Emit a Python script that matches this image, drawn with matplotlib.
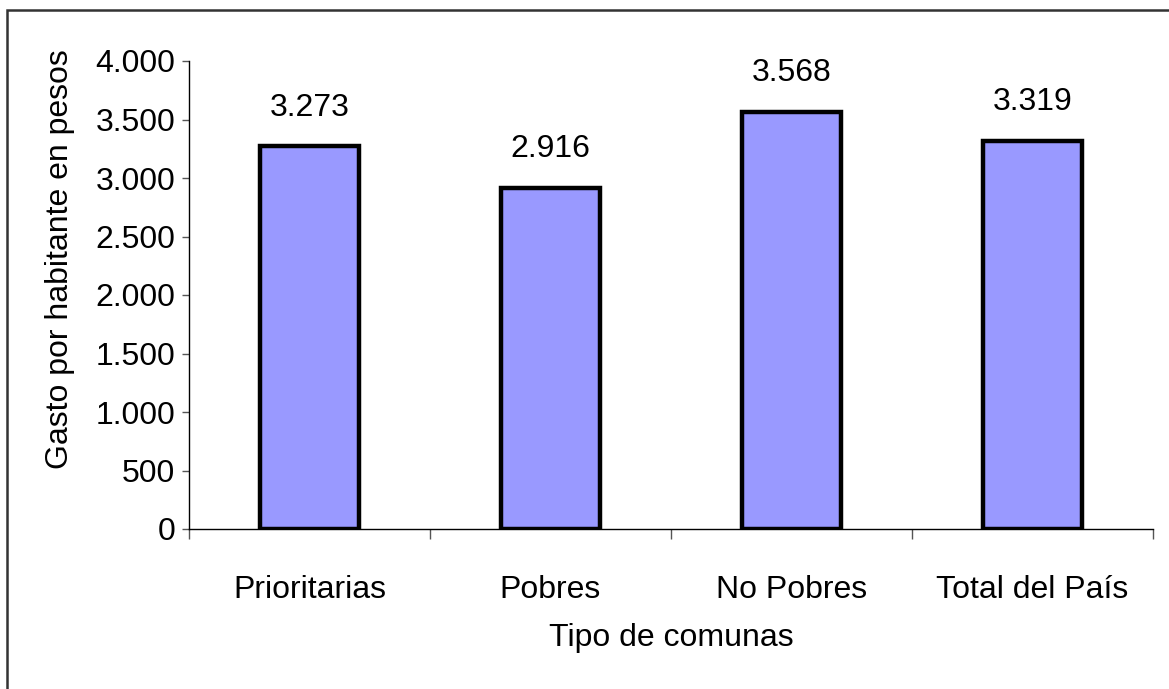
import matplotlib
matplotlib.use("Agg")
import matplotlib.pyplot as plt
from matplotlib.patches import Rectangle
from matplotlib.ticker import FuncFormatter, MultipleLocator, FixedLocator

categories = ["Prioritarias", "Pobres", "No Pobres", "Total del País"]
values = [3273, 2916, 3568, 3319]
value_labels = ["3.273", "2.916", "3.568", "3.319"]

plt.rcParams["font.family"] = ["Liberation Sans", "DejaVu Sans"]
FS = 23

W, H = 1169, 689
fig = plt.figure(figsize=(W / 100, H / 100), dpi=100)

# outer chart-area frame (cut off at the right and bottom as in the source)
fig.patches.append(Rectangle((7 / W, 0 - 0.01), 1.02, (H - 10) / H + 0.01,
                             transform=fig.transFigure, fill=False,
                             edgecolor="#333333", linewidth=1.8))

ax = fig.add_axes([189 / W, (H - 529) / H, (1153 - 189) / W, (529 - 61) / H])

x = list(range(len(categories)))
ax.bar(x, values, width=0.41, color="#9999FF", edgecolor="black", linewidth=3.2)

for xi, v, lab in zip(x, values, value_labels):
    ax.annotate(lab, (xi, v), xytext=(0, 22), textcoords="offset points",
                ha="center", va="baseline", fontsize=FS)

ax.set_xlim(-0.5, len(categories) - 0.5)
ax.set_ylim(0, 4000)

ax.yaxis.set_major_locator(MultipleLocator(500))
ax.yaxis.set_major_formatter(FuncFormatter(lambda v, p: f"{int(v):,}".replace(",", ".")))
ax.tick_params(axis="y", direction="out", length=5, width=1, color="#555555",
               labelsize=FS, pad=5)

ax.set_xticks(x)
ax.set_xticklabels(categories)
ax.xaxis.set_minor_locator(FixedLocator([i - 0.5 for i in range(len(categories) + 1)]))
ax.tick_params(axis="x", which="major", length=0, labelsize=FS, pad=33)
ax.tick_params(axis="x", which="minor", direction="out", length=7, width=1,
               color="#555555")

for s in ("top", "right"):
    ax.spines[s].set_visible(False)
ax.spines["left"].set_linewidth(1)
ax.spines["bottom"].set_linewidth(1)

ax.set_xlabel("Tipo de comunas", fontsize=FS)
ax.xaxis.set_label_coords(0.5, -0.2)
ax.set_ylabel("Gasto por habitante en pesos", fontsize=FS)
ax.yaxis.set_label_coords(-0.118, 0.577)

fig.savefig("out.png", dpi=100)
